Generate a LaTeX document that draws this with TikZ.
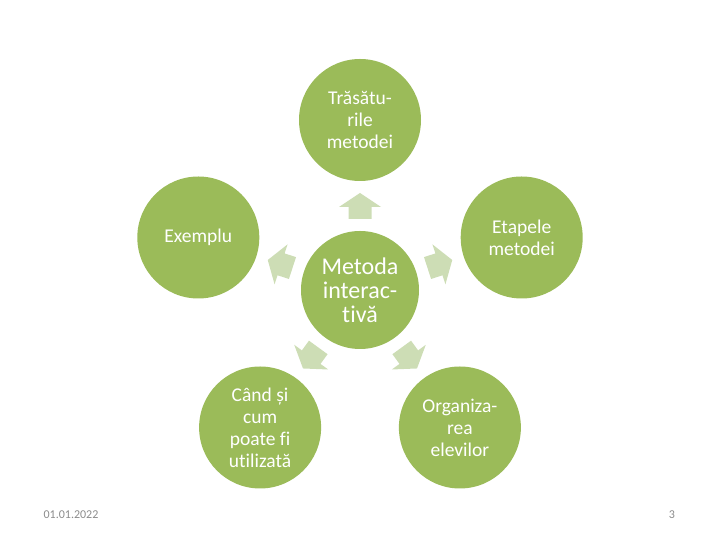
\documentclass[tikz,border=0pt]{standalone}
\usepackage{fontspec}
\setmainfont{Carlito}[Ligatures={NoCommon}]
\definecolor{cgreen}{HTML}{9BBB59}
\definecolor{carrow}{HTML}{CDDDB5}
\definecolor{cfoot}{HTML}{8B8B8B}
\begin{document}
\begin{tikzpicture}[x=1pt,y=1pt,
  bub/.style={circle, fill=cgreen, minimum size=122pt, inner sep=0pt, text=white,
              font=\fontsize{19.5}{22}\selectfont, align=center},
  hub/.style={bub, minimum size=118pt, font=\fontsize{24}{24}\selectfont},
  arr/.style={fill=carrow, draw=none},
  foot/.style={text=cfoot, font=\fontsize{12}{14}\selectfont, inner sep=0pt}]
\useasboundingbox (0,0) rectangle (720,540);
\node[hub] (c) at (360,250) {Metoda\\interac-\\tivă};
\node[bub] (top) at (360,420) {Trăsătu-\\rile\\metodei};
\node[bub] (left) at (198.3,302.5) {Exemplu};
\node[bub] (right) at (521.7,302.5) {Etapele\\metodei};
\node[bub] (bl) at (260.1,112.5) {Când și\\cum\\poate fi\\utilizată};
\node[bub] (br) at (459.9,112.5) {Organiza-\\rea\\elevilor};
\foreach \ang in {90,162,18,234,306}{
  \begin{scope}[shift={(c.center)}, rotate=\ang]
    \fill[arr] (71,-11.5) -- (83,-11.5) -- (83,-21) -- (97,0) -- (83,21) -- (83,11.5) -- (71,11.5) -- cycle;
  \end{scope}
}
\node[foot] (date) at (71,25) {01.01.2022};
\node[foot] (page) at (672,25) {3};
\end{tikzpicture}
\end{document}
